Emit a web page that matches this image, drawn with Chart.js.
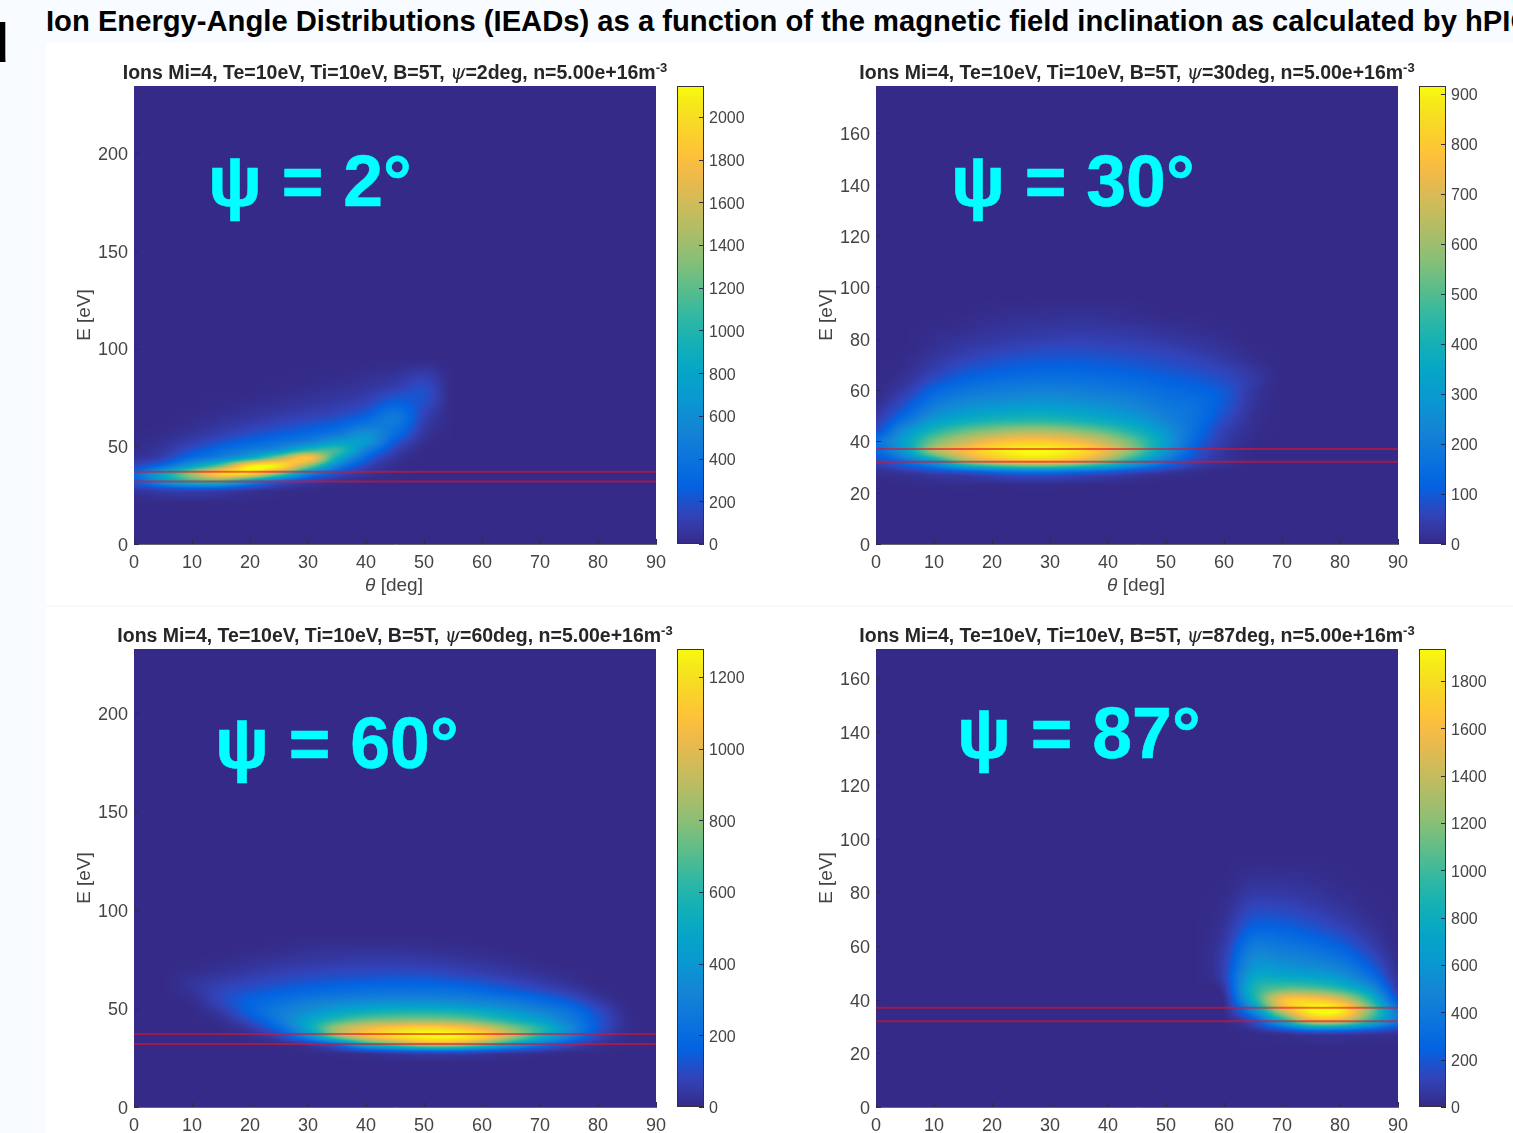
<!DOCTYPE html>
<html>
<head>
<meta charset="utf-8">
<title>IEADs</title>
<script src="https://cdn.jsdelivr.net/npm/chart.js@4"></script>
<style>
html, body { margin: 0; padding: 0; }
body { width: 1513px; height: 1133px; overflow: hidden; position: relative; background: #f8fbff; font-family: "Liberation Sans", Arial, sans-serif; }
#sheet { position: absolute; left: 46px; top: 43px; width: 1467px; height: 1090px; background: #fff; }
#rule { position: absolute; left: 46px; top: 605px; width: 1467px; height: 2px; background: #f6f9fe; }
#heading { position: absolute; left: 46px; top: 5px; white-space: nowrap; font-weight: bold; font-size: 29.2px; line-height: 32px; color: #000; }
#corner { position: absolute; left: -25px; top: 11px; font-size: 56px; line-height: 64px; font-weight: bold; color: #000; }
canvas { position: absolute; }
.plot-title { position: absolute; white-space: nowrap; font-weight: bold; font-size: 19.5px; line-height: 20px; color: #262626; transform: translateX(-50%); }
.plot-title sup { font-size: 13px; line-height: 0; }
.plot-title i { font-family: "DejaVu Serif"; font-weight: normal; }
.x-title { position: absolute; white-space: nowrap; font-size: 19px; line-height: 20px; color: #444; transform: translateX(-50%); }
.psi { position: absolute; white-space: nowrap; font-weight: bold; font-size: 71.5px; line-height: 70px; color: #00ffff; -webkit-text-stroke: 0.6px #00ffff; }
</style>
</head>
<body>
<div id="sheet"></div>
<div id="rule"></div>
<div id="corner">d</div>
<div id="heading">Ion Energy-Angle Distributions (IEADs) as a function of the magnetic field inclination as calculated by hPIC</div>
<script>
// bin centres shared by the four panels
const thetaBins = [0, 5, 10, 15, 20, 25, 30, 35, 40, 45, 50, 55, 60, 65, 70, 75, 80, 85, 90];
const energyBins = [24, 28, 32, 36, 40, 44, 48, 52, 56, 60, 64, 68, 72, 76, 80, 84, 88, 92];

// counts, one row per energy bin
const counts2deg = [
    [20, 40, 50, 40, 20, 5, 0, 0, 0, 0, 0, 0, 0, 0, 0, 0, 0, 0, 0],
    [80, 150, 200, 180, 100, 40, 15, 0, 0, 0, 0, 0, 0, 0, 0, 0, 0, 0, 0],
    [250, 650, 1000, 1050, 650, 300, 120, 40, 5, 0, 0, 0, 0, 0, 0, 0, 0, 0, 0],
    [330, 800, 1400, 1950, 1950, 1300, 550, 200, 60, 10, 0, 0, 0, 0, 0, 0, 0, 0, 0],
    [150, 350, 750, 1250, 2050, 2050, 1350, 520, 150, 20, 0, 0, 0, 0, 0, 0, 0, 0, 0],
    [50, 130, 350, 550, 880, 1400, 1850, 900, 300, 60, 0, 0, 0, 0, 0, 0, 0, 0, 0],
    [20, 70, 200, 350, 480, 650, 1050, 1080, 500, 130, 10, 0, 0, 0, 0, 0, 0, 0, 0],
    [10, 40, 110, 210, 300, 400, 530, 750, 680, 230, 30, 0, 0, 0, 0, 0, 0, 0, 0],
    [0, 20, 60, 120, 190, 260, 340, 450, 640, 340, 60, 0, 0, 0, 0, 0, 0, 0, 0],
    [0, 5, 30, 70, 120, 170, 230, 300, 460, 410, 90, 0, 0, 0, 0, 0, 0, 0, 0],
    [0, 0, 15, 40, 70, 110, 150, 200, 320, 450, 120, 0, 0, 0, 0, 0, 0, 0, 0],
    [0, 0, 5, 20, 40, 70, 100, 130, 210, 380, 150, 0, 0, 0, 0, 0, 0, 0, 0],
    [0, 0, 0, 10, 20, 40, 60, 90, 140, 270, 180, 0, 0, 0, 0, 0, 0, 0, 0],
    [0, 0, 0, 5, 10, 20, 35, 60, 95, 190, 190, 0, 0, 0, 0, 0, 0, 0, 0],
    [0, 0, 0, 0, 0, 10, 20, 35, 60, 110, 170, 0, 0, 0, 0, 0, 0, 0, 0],
    [0, 0, 0, 0, 0, 5, 10, 20, 40, 70, 130, 0, 0, 0, 0, 0, 0, 0, 0],
    [0, 0, 0, 0, 0, 0, 5, 10, 20, 40, 80, 0, 0, 0, 0, 0, 0, 0, 0],
    [0, 0, 0, 0, 0, 0, 0, 5, 10, 15, 30, 0, 0, 0, 0, 0, 0, 0, 0]
];
const counts30deg = [
    [0, 5, 10, 15, 15, 20, 20, 15, 10, 5, 0, 0, 0, 0, 0, 0, 0, 0, 0],
    [15, 30, 60, 90, 130, 160, 160, 130, 100, 60, 30, 10, 0, 0, 0, 0, 0, 0, 0],
    [60, 150, 300, 540, 670, 750, 750, 670, 520, 340, 170, 60, 20, 0, 0, 0, 0, 0, 0],
    [130, 300, 600, 750, 860, 915, 915, 860, 720, 520, 280, 100, 25, 0, 0, 0, 0, 0, 0],
    [160, 330, 540, 660, 750, 790, 790, 740, 640, 500, 310, 130, 40, 5, 0, 0, 0, 0, 0],
    [80, 270, 420, 520, 580, 620, 620, 570, 500, 400, 280, 150, 50, 10, 0, 0, 0, 0, 0],
    [45, 170, 310, 380, 420, 440, 440, 410, 370, 310, 230, 160, 70, 15, 0, 0, 0, 0, 0],
    [25, 110, 230, 290, 320, 340, 340, 320, 290, 250, 200, 160, 90, 20, 0, 0, 0, 0, 0],
    [10, 70, 170, 225, 250, 265, 270, 255, 235, 210, 170, 150, 100, 25, 0, 0, 0, 0, 0],
    [5, 40, 120, 170, 195, 210, 215, 205, 190, 170, 145, 125, 95, 30, 0, 0, 0, 0, 0],
    [0, 20, 75, 120, 145, 160, 165, 160, 150, 135, 115, 100, 75, 35, 0, 0, 0, 0, 0],
    [0, 10, 45, 85, 105, 120, 125, 125, 115, 105, 90, 75, 55, 25, 0, 0, 0, 0, 0],
    [0, 5, 30, 55, 75, 90, 95, 95, 90, 80, 70, 55, 35, 10, 0, 0, 0, 0, 0],
    [0, 0, 15, 35, 50, 60, 70, 70, 65, 60, 50, 35, 20, 5, 0, 0, 0, 0, 0],
    [0, 0, 10, 20, 30, 40, 45, 50, 45, 40, 30, 20, 10, 0, 0, 0, 0, 0, 0],
    [0, 0, 5, 10, 20, 25, 30, 30, 30, 25, 15, 10, 5, 0, 0, 0, 0, 0, 0],
    [0, 0, 0, 5, 10, 15, 15, 20, 15, 10, 5, 5, 0, 0, 0, 0, 0, 0, 0],
    [0, 0, 0, 0, 5, 5, 10, 10, 10, 5, 0, 0, 0, 0, 0, 0, 0, 0, 0]
];
const counts60deg = [
    [0, 0, 0, 0, 0, 0, 0, 0, 5, 10, 15, 15, 10, 5, 0, 0, 0, 0, 0],
    [0, 0, 0, 0, 0, 0, 10, 30, 70, 110, 140, 140, 110, 70, 40, 15, 5, 0, 0],
    [0, 0, 0, 0, 0, 10, 60, 220, 560, 760, 950, 950, 760, 500, 280, 120, 30, 5, 0],
    [0, 0, 0, 0, 15, 90, 340, 780, 1050, 1200, 1275, 1275, 1170, 880, 560, 300, 90, 10, 0],
    [0, 0, 0, 5, 50, 190, 480, 850, 1020, 1120, 1170, 1130, 1000, 800, 600, 350, 130, 15, 0],
    [0, 0, 0, 20, 110, 260, 470, 640, 760, 800, 810, 790, 700, 580, 450, 290, 130, 15, 0],
    [0, 0, 0, 45, 160, 280, 380, 480, 550, 590, 600, 580, 520, 430, 340, 240, 110, 10, 0],
    [0, 0, 5, 80, 170, 240, 310, 360, 400, 420, 420, 400, 360, 310, 240, 170, 70, 5, 0],
    [0, 0, 20, 90, 150, 190, 230, 260, 280, 290, 290, 280, 250, 210, 160, 100, 30, 0, 0],
    [0, 0, 30, 80, 110, 140, 170, 190, 205, 210, 210, 200, 170, 130, 90, 50, 10, 0, 0],
    [0, 0, 30, 55, 80, 100, 120, 135, 145, 150, 150, 135, 110, 80, 50, 20, 0, 0, 0],
    [0, 0, 15, 30, 50, 70, 85, 95, 100, 105, 100, 85, 65, 45, 25, 10, 0, 0, 0],
    [0, 0, 5, 15, 30, 45, 55, 65, 70, 70, 65, 55, 40, 25, 10, 0, 0, 0, 0],
    [0, 0, 0, 5, 15, 25, 35, 40, 45, 45, 40, 30, 20, 10, 0, 0, 0, 0, 0],
    [0, 0, 0, 0, 5, 10, 20, 25, 25, 25, 20, 15, 10, 0, 0, 0, 0, 0, 0],
    [0, 0, 0, 0, 0, 5, 10, 10, 10, 10, 10, 5, 0, 0, 0, 0, 0, 0, 0],
    [0, 0, 0, 0, 0, 0, 0, 0, 0, 0, 0, 0, 0, 0, 0, 0, 0, 0, 0],
    [0, 0, 0, 0, 0, 0, 0, 0, 0, 0, 0, 0, 0, 0, 0, 0, 0, 0, 0]
];
const counts87deg = [
    [0, 0, 0, 0, 0, 0, 0, 0, 0, 0, 0, 0, 0, 5, 10, 15, 15, 10, 5],
    [0, 0, 0, 0, 0, 0, 0, 0, 0, 0, 0, 0, 0, 20, 90, 180, 180, 120, 70],
    [0, 0, 0, 0, 0, 0, 0, 0, 0, 0, 0, 0, 0, 180, 750, 1400, 1400, 900, 400],
    [0, 0, 0, 0, 0, 0, 0, 0, 0, 0, 0, 0, 5, 500, 1400, 1920, 1900, 1200, 400],
    [0, 0, 0, 0, 0, 0, 0, 0, 0, 0, 0, 0, 20, 800, 1600, 1700, 1500, 950, 200],
    [0, 0, 0, 0, 0, 0, 0, 0, 0, 0, 0, 0, 60, 850, 1100, 1100, 950, 620, 90],
    [0, 0, 0, 0, 0, 0, 0, 0, 0, 0, 0, 0, 110, 740, 780, 740, 640, 380, 50],
    [0, 0, 0, 0, 0, 0, 0, 0, 0, 0, 0, 0, 110, 600, 600, 550, 460, 250, 30],
    [0, 0, 0, 0, 0, 0, 0, 0, 0, 0, 0, 0, 100, 510, 490, 430, 340, 170, 15],
    [0, 0, 0, 0, 0, 0, 0, 0, 0, 0, 0, 0, 80, 410, 390, 330, 240, 110, 5],
    [0, 0, 0, 0, 0, 0, 0, 0, 0, 0, 0, 0, 60, 310, 300, 240, 170, 70, 0],
    [0, 0, 0, 0, 0, 0, 0, 0, 0, 0, 0, 0, 45, 220, 220, 170, 110, 40, 0],
    [0, 0, 0, 0, 0, 0, 0, 0, 0, 0, 0, 0, 30, 160, 160, 120, 70, 20, 0],
    [0, 0, 0, 0, 0, 0, 0, 0, 0, 0, 0, 0, 20, 110, 110, 80, 40, 10, 0],
    [0, 0, 0, 0, 0, 0, 0, 0, 0, 0, 0, 0, 10, 70, 70, 50, 25, 5, 0],
    [0, 0, 0, 0, 0, 0, 0, 0, 0, 0, 0, 0, 5, 40, 40, 30, 10, 0, 0],
    [0, 0, 0, 0, 0, 0, 0, 0, 0, 0, 0, 0, 0, 20, 20, 15, 5, 0, 0],
    [0, 0, 0, 0, 0, 0, 0, 0, 0, 0, 0, 0, 0, 5, 5, 5, 0, 0, 0]
];

// the two red reference energies drawn across every panel
const referenceEnergies = [37, 32];

const psiAngles = [2, 30, 60, 87];
const energyMax = [234.3, 178.4, 232.5, 170.8];
const energyStep = [50, 20, 50, 20];
const colorMax = [2145, 916, 1278, 1935];
const colorStep = [200, 100, 200, 200];

// parula, old matlab version: [row of 64, r, g, b]
const parulaStops = [
    [0, .2081, .1663, .5292], [4, .1959, .2645, .7279], [8, .0117, .3875, .8820], [12, .0498, .4586, .8641],
    [16, .0793, .5200, .8312], [20, .0343, .5966, .8199], [24, .0228, .6535, .7768], [28, .0843, .6928, .7062],
    [32, .2178, .7250, .6193], [36, .3953, .7459, .5244], [40, .5709, .7485, .4494], [44, .7184, .7411, .3905],
    [48, .8507, .7299, .3360], [52, .9739, .7314, .2666], [54, .9990, .7653, .2164], [56, .9880, .8066, .1794],
    [60, .9589, .8949, .1132], [63, .9763, .9831, .0538]
];

function parula(t) {
    const pos = Math.min(Math.max(t, 0), 1) * 63;
    let i = 0;
    while (i < parulaStops.length - 2 && parulaStops[i + 1][0] < pos) i++;
    const a = parulaStops[i], b = parulaStops[i + 1];
    const f = (pos - a[0]) / (b[0] - a[0]);
    return [1, 2, 3].map(k => Math.round((a[k] + (b[k] - a[k]) * f) * 255));
}

function cubic(p0, p1, p2, p3, t) {
    return p1 + 0.5 * t * (p2 - p0 + t * (2 * p0 - 5 * p1 + 4 * p2 - p3 + t * (3 * (p1 - p2) + p3 - p0)));
}

// shading of the cells between bin centres, like shading interp in matlab
function shadeAt(grid, theta, energy) {
    const fx = (theta - thetaBins[0]) / 5;
    const fy = (energy - energyBins[0]) / 4;
    const ix = Math.floor(fx), iy = Math.floor(fy);
    const cell = (r, c) => (r < 0 || r >= grid.length) ? 0 : grid[r][Math.min(Math.max(c, 0), thetaBins.length - 1)];
    const rows = [];
    for (let r = iy - 1; r <= iy + 2; r++) {
        rows.push(cubic(cell(r, ix - 1), cell(r, ix), cell(r, ix + 1), cell(r, ix + 2), fx - ix));
    }
    return cubic(rows[0], rows[1], rows[2], rows[3], fy - iy);
}

const heatmapPlugin = {
    id: 'heatmap',
    beforeDatasetsDraw(chart) {
        const ds = chart.data.datasets[0];
        if (!ds.isHeat) return;
        const area = chart.chartArea;
        const xs = chart.scales.x, ys = chart.scales.y;
        const w = Math.round(area.right - area.left), h = Math.round(area.bottom - area.top);
        const grid = energyBins.map((e, r) => thetaBins.map((t, c) => ds.data[r * thetaBins.length + c].v));
        const off = document.createElement('canvas');
        off.width = w;
        off.height = h;
        const octx = off.getContext('2d');
        const img = octx.createImageData(w, h);
        for (let py = 0; py < h; py++) {
            const energy = ys.getValueForPixel(area.top + py + 0.5);
            for (let px = 0; px < w; px++) {
                const theta = xs.getValueForPixel(area.left + px + 0.5);
                const rgb = parula(shadeAt(grid, theta, energy) / ds.colorMax);
                const o = (py * w + px) * 4;
                img.data[o] = rgb[0];
                img.data[o + 1] = rgb[1];
                img.data[o + 2] = rgb[2];
                img.data[o + 3] = 255;
            }
        }
        octx.putImageData(img, 0, 0);
        chart.ctx.drawImage(off, area.left, area.top);
    }
};

// matlab style ticks pointing into the axes
const inwardTicksPlugin = {
    id: 'inwardTicks',
    afterDraw(chart) {
        const ctx = chart.ctx, area = chart.chartArea;
        ctx.save();
        ctx.strokeStyle = '#2c2c50';
        ctx.lineWidth = 1;
        ctx.beginPath();
        Object.values(chart.scales).forEach(scale => {
            if (!scale.options.display) return;
            scale.ticks.forEach((t, i) => {
                const p = Math.round(scale.getPixelForTick(i)) + 0.5;
                if (scale.axis === 'x') {
                    ctx.moveTo(p, area.bottom);
                    ctx.lineTo(p, area.bottom - 5);
                } else if (scale.position === 'right') {
                    ctx.moveTo(area.right, p);
                    ctx.lineTo(area.right - 5, p);
                } else {
                    ctx.moveTo(area.left, p);
                    ctx.lineTo(area.left + 5, p);
                }
            });
        });
        ctx.stroke();
        if (chart.config.type === 'bar') {
            ctx.strokeStyle = '#333';
            ctx.strokeRect(area.left + 0.5, area.top + 0.5, area.right - area.left - 1, area.bottom - area.top - 1);
        }
        ctx.restore();
    }
};

const tickFont = { family: '"Liberation Sans", Arial, sans-serif', size: 18 };
const plainNumber = { useGrouping: false };

function addDiv(className, html, left, top) {
    const div = document.createElement('div');
    div.className = className;
    div.innerHTML = html;
    div.style.left = left + 'px';
    div.style.top = top + 'px';
    document.body.appendChild(div);
}

function addCanvas(left, top, width, height) {
    const canvas = document.createElement('canvas');
    canvas.width = width;
    canvas.height = height;
    canvas.style.left = left + 'px';
    canvas.style.top = top + 'px';
    canvas.style.width = width + 'px';
    canvas.style.height = height + 'px';
    document.body.appendChild(canvas);
    return canvas;
}

function drawPanel(index, counts, left, top) {
    const plotW = 522, plotH = 458;
    const points = [];
    energyBins.forEach((e, r) => thetaBins.forEach((t, c) => points.push({ x: t, y: e, v: counts[r][c] })));

    const datasets = [{ isHeat: true, colorMax: colorMax[index], data: points, pointRadius: 0, showLine: false }];
    referenceEnergies.forEach(e => {
        datasets.push({
            data: [{ x: 0, y: e }, { x: 90, y: e }],
            showLine: true,
            pointRadius: 0,
            borderColor: 'rgba(226, 18, 36, 0.6)',
            borderWidth: 2
        });
    });

    const canvas = addCanvas(left - 70, top - 10, plotW + 70 + 16, plotH + 10 + 55);
    new Chart(canvas, {
        type: 'scatter',
        data: { datasets },
        plugins: [heatmapPlugin, inwardTicksPlugin],
        options: {
            responsive: false,
            animation: false,
            events: [],
            layout: { padding: { left: 0, top: 10, right: 16, bottom: 0 } },
            plugins: { legend: { display: false }, tooltip: { enabled: false }, title: { display: false } },
            scales: {
                x: {
                    type: 'linear',
                    min: 0,
                    max: 90,
                    afterFit: s => { s.height = 55; s.paddingLeft = 0; s.paddingRight = 0; },
                    border: { color: '#6a6a6a' },
                    grid: { display: false, drawTicks: false, tickLength: 0 },
                    ticks: { stepSize: 10, color: '#444', font: tickFont, padding: 8, maxRotation: 0, autoSkip: false }
                },
                y: {
                    type: 'linear',
                    min: 0,
                    max: energyMax[index],
                    afterFit: s => { s.width = 70; s.paddingTop = 0; s.paddingBottom = 0; },
                    border: { color: '#6a6a6a' },
                    grid: { display: false, drawTicks: false, tickLength: 0 },
                    title: { display: true, text: 'E [eV]', color: '#444', font: { family: tickFont.family, size: 19 }, padding: { top: 9, bottom: 0 } },
                    ticks: { stepSize: energyStep[index], color: '#444', font: tickFont, padding: 6, labelOffset: 2, includeBounds: false, autoSkip: false }
                }
            }
        }
    });

    // colorbar, one floating bar filled with the colormap
    const barCanvas = addCanvas(left + plotW + 14, top - 10, 100, plotH + 20);
    new Chart(barCanvas, {
        type: 'bar',
        data: {
            labels: [''],
            datasets: [{
                data: [[0, colorMax[index]]],
                barPercentage: 1,
                categoryPercentage: 1,
                backgroundColor: ctx => {
                    const area = ctx.chart.chartArea;
                    if (!area) return '#352a87';
                    const g = ctx.chart.ctx.createLinearGradient(0, area.bottom, 0, area.top);
                    for (let i = 0; i <= 32; i++) {
                        const rgb = parula(i / 32);
                        g.addColorStop(i / 32, 'rgb(' + rgb.join(',') + ')');
                    }
                    return g;
                },
                borderWidth: 0
            }]
        },
        plugins: [inwardTicksPlugin],
        options: {
            responsive: false,
            animation: false,
            events: [],
            layout: { padding: { left: 7, top: 10, right: 0, bottom: 10 } },
            plugins: { legend: { display: false }, tooltip: { enabled: false } },
            scales: {
                x: { display: false },
                y: {
                    position: 'right',
                    min: 0,
                    max: colorMax[index],
                    afterFit: s => { s.width = 66; s.paddingTop = 0; s.paddingBottom = 0; },
                    border: { display: false },
                    grid: { display: false, drawTicks: false, tickLength: 0 },
                    ticks: { stepSize: colorStep[index], format: plainNumber, color: '#444', font: { family: tickFont.family, size: 16 }, padding: 5, labelOffset: 2, includeBounds: false, autoSkip: false }
                }
            }
        }
    });

    addDiv('plot-title', 'Ions Mi=4, Te=10eV, Ti=10eV, B=5T, <i>ψ</i>=' + psiAngles[index] + 'deg, n=5.00e+16m<sup>-3</sup>', left + 261, top - 24);
    addDiv('x-title', '<i>θ</i> [deg]', left + 260, top + plotH + 31);
}

const panelLefts = [134, 876, 134, 876];
const panelTops = [86, 86, 649, 649];
const psiLabels = [[208, 146], [951, 146], [215, 708], [957, 698]];

[counts2deg, counts30deg, counts60deg, counts87deg].forEach((counts, i) => {
    drawPanel(i, counts, panelLefts[i], panelTops[i]);
    addDiv('psi', 'ψ = ' + psiAngles[i] + '°', psiLabels[i][0], psiLabels[i][1]);
});
</script>
</body>
</html>
